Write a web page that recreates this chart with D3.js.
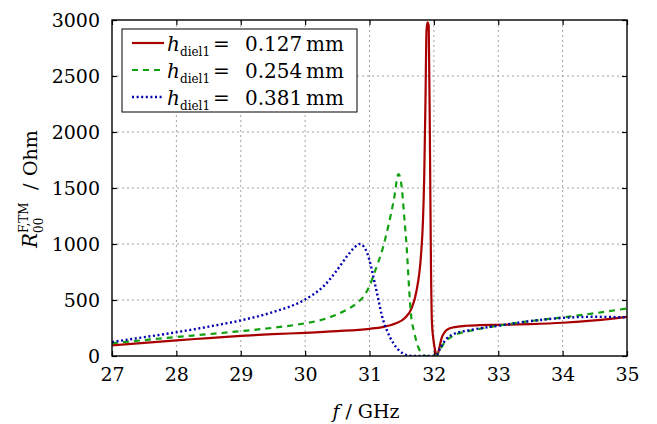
<!DOCTYPE html>
<html>
<head>
<meta charset="utf-8">
<script src="https://cdn.jsdelivr.net/npm/d3@7"></script>
<style>
  body { margin: 0; background: #fff; }
  svg text { fill: #000; }
</style>
</head>
<body>
<div class="chart"></div>
<script>
var w = 657,
    h = 424;

// data (f in GHz, R in Ohm)
var xTicks = [27, 28, 29, 30, 31, 32, 33, 34, 35];
var yTicks = [0, 500, 1000, 1500, 2000, 2500, 3000];

var fRed = [27, 27.5, 28, 28.5, 29, 29.5, 30, 30.5, 31, 31.2, 31.4, 31.55, 31.65, 31.73, 31.8, 31.83, 31.85, 31.87, 31.885, 31.9, 31.92, 31.94, 31.955, 31.97, 31.99, 32.02, 32.05, 32.08, 32.12, 32.17, 32.24, 32.35, 32.5, 32.7, 33, 33.5, 34, 34.5, 35];
var rRed = [95, 118, 140, 160, 180, 195, 207, 222, 243, 258, 290, 340, 420, 580, 900, 1200, 1600, 2300, 2900, 2980, 2950, 1800, 800, 300, 160, 50, 0, 60, 160, 215, 245, 260, 270, 275, 278, 285, 297, 318, 350];

var fGreen = [27, 27.5, 28, 28.5, 29, 29.5, 30, 30.3, 30.6, 30.8, 30.9, 31, 31.1, 31.2, 31.3, 31.38, 31.45, 31.5, 31.54, 31.58, 31.61, 31.64, 31.7, 31.75, 31.8, 31.85, 31.9, 32.0, 32.05, 32.1, 32.18, 32.3, 32.57, 33, 33.5, 34, 34.5, 35];
var rGreen = [115, 142, 170, 195, 222, 252, 292, 330, 400, 470, 525, 625, 780, 950, 1180, 1400, 1625, 1510, 1240, 950, 650, 400, 200, 90, 30, 5, 0, 0, 10, 60, 130, 180, 225, 270, 312, 345, 382, 425];

var fBlue = [27, 27.5, 28, 28.5, 29, 29.5, 30, 30.3, 30.5, 30.65, 30.75, 30.85, 30.92, 30.97, 31.02, 31.07, 31.14, 31.19, 31.27, 31.37, 31.45, 31.52, 31.6, 31.7, 31.98, 32.05, 32.1, 32.18, 32.3, 32.57, 33, 33.5, 34, 34.5, 35];
var rBlue = [125, 168, 212, 262, 318, 392, 505, 630, 770, 890, 960, 1000, 970, 910, 810, 680, 500, 365, 230, 115, 55, 22, 5, 0, 0, 15, 70, 143, 195, 232, 270, 312, 340, 350, 345];

var labels = ["0.127", "0.254", "0.381"];
var color = ["#a80000", "#10a010", "#0000b0"];
var dash = [null, "6,5", "2,2.6"];

var series = [
  d3.zip(fRed, rRed),
  d3.zip(fGreen, rGreen),
  d3.zip(fBlue, rBlue)
];

var font = "DejaVu Serif";
var pL = 112, pR = 627, pT = 20, pB = 356;

var svg = d3.select("body").select(".chart").append("svg")
  .attr("width", w)
  .attr("height", h)
  .attr("font-family", font);

var x = d3.scaleLinear().domain([27, 35]).range([pL, pR]);
var y = d3.scaleLinear().domain([0, 3000]).range([pB, pT]);

// grid
svg.append("g").selectAll("line")
  .data(xTicks.slice(1, -1))
  .enter().append("line")
  .attr("x1", d => x(d)).attr("x2", d => x(d))
  .attr("y1", pT).attr("y2", pB)
  .attr("stroke", "#999").attr("stroke-width", 0.9)
  .attr("stroke-dasharray", "2,3");

svg.append("g").selectAll("line")
  .data(yTicks.slice(1, -1))
  .enter().append("line")
  .attr("x1", pL).attr("x2", pR)
  .attr("y1", d => y(d)).attr("y2", d => y(d))
  .attr("stroke", "#999").attr("stroke-width", 0.9)
  .attr("stroke-dasharray", "2,3");

// axes with inward ticks
var xb = svg.append("g").attr("transform", "translate(0," + pB + ")")
  .call(d3.axisBottom(x).tickValues(xTicks).tickSize(-5).tickPadding(12));
var xt = svg.append("g").attr("transform", "translate(0," + pT + ")")
  .call(d3.axisTop(x).tickValues(xTicks).tickSize(-5).tickFormat(""));
var yl = svg.append("g").attr("transform", "translate(" + pL + ",0)")
  .call(d3.axisLeft(y).tickValues(yTicks).tickSize(-5).tickPadding(12).tickFormat(d3.format("d")));
var yr = svg.append("g").attr("transform", "translate(" + pR + ",0)")
  .call(d3.axisRight(y).tickValues(yTicks).tickSize(-5).tickFormat(""));

[xb, xt, yl, yr].forEach(function(g) {
  g.attr("font-family", font).attr("font-size", 19);
  g.select(".domain").remove();
  g.selectAll("line").attr("stroke", "#000").attr("stroke-width", 1.2);
});
xb.selectAll("text").attr("dy", "0.71em");

// curves
svg.append("clipPath").attr("id", "clip")
  .append("rect").attr("x", pL).attr("y", pT - 2)
  .attr("width", pR - pL).attr("height", pB - pT + 2);

var line = d3.line()
  .x(d => x(d[0]))
  .y(d => y(d[1]))
  .curve(d3.curveMonotoneX);

svg.append("g").attr("clip-path", "url(#clip)")
  .selectAll("path")
  .data(series)
  .enter().append("path")
  .attr("d", line)
  .attr("fill", "none")
  .attr("stroke", (d, i) => color[i])
  .attr("stroke-width", (d, i) => i == 2 ? 2.4 : 2.2)
  .attr("stroke-dasharray", (d, i) => dash[i]);

// frame
svg.append("rect")
  .attr("x", pL).attr("y", pT)
  .attr("width", pR - pL).attr("height", pB - pT)
  .attr("fill", "none").attr("stroke", "#000").attr("stroke-width", 1.4);

// legend
var lg = svg.append("g");
lg.append("rect")
  .attr("x", 122).attr("y", 29).attr("width", 235).attr("height", 83)
  .attr("fill", "#fff").attr("stroke", "#000").attr("stroke-width", 1);

var rows = lg.selectAll("g.row")
  .data(labels)
  .enter().append("g")
  .attr("transform", (d, i) => "translate(0," + (43 + i * 27) + ")");

rows.append("line")
  .attr("x1", 132).attr("x2", 164).attr("y1", 0).attr("y2", 0)
  .attr("stroke", (d, i) => color[i])
  .attr("stroke-width", (d, i) => i == 2 ? 2.4 : 2.2)
  .attr("stroke-dasharray", (d, i) => dash[i]);

var lt = rows.append("text").attr("y", 8).attr("font-size", 20);
lt.append("tspan").attr("x", 167).attr("font-style", "italic").text("h");
lt.append("tspan").attr("x", 180).attr("dy", 5).attr("font-size", 12).text("diel1");
lt.append("tspan").attr("x", 213).attr("dy", -5).text("=");
lt.append("tspan").attr("x", 245).text(d => d);
lt.append("tspan").attr("x", 306).text("mm");

// axis labels
svg.append("text")
  .attr("x", 366).attr("y", 418)
  .attr("text-anchor", "middle")
  .attr("font-size", 19)
  .html('<tspan font-style="italic">f</tspan><tspan dx="6">/</tspan><tspan dx="6">GHz</tspan>');

var yg = svg.append("g").attr("transform", "translate(37,248) rotate(-90)");
yg.append("text").attr("x", 0).attr("y", 0)
  .attr("font-size", 20).attr("font-style", "italic").text("R");
yg.append("text").attr("x", 15).attr("y", -9)
  .attr("font-size", 12).text("F,TM");
yg.append("text").attr("x", 15).attr("y", 6)
  .attr("font-size", 12).text("00");
yg.append("text").attr("x", 58).attr("y", 0)
  .attr("font-size", 19).text("/");
yg.append("text").attr("x", 72).attr("y", 0)
  .attr("font-size", 19).text("Ohm");
</script>
</body>
</html>
